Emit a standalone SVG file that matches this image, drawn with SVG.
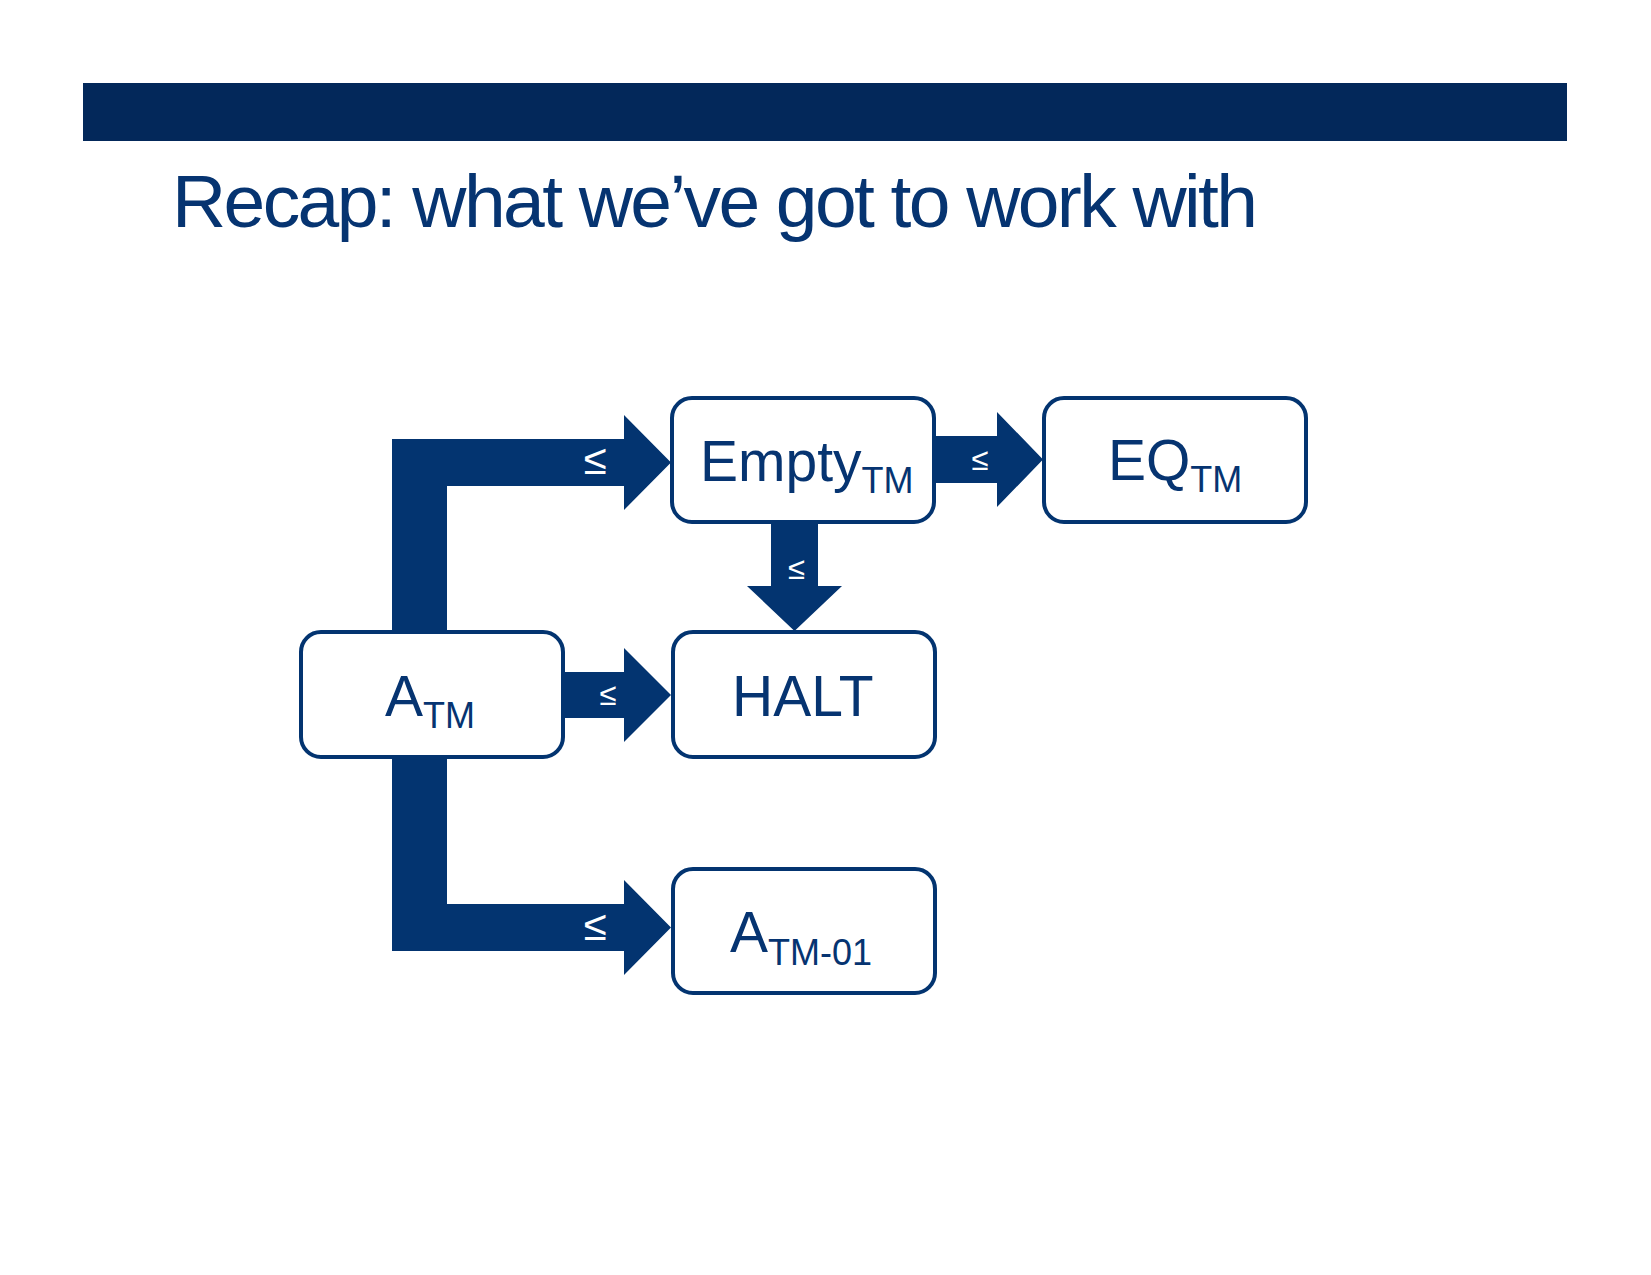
<svg xmlns="http://www.w3.org/2000/svg" width="1651" height="1275" viewBox="0 0 1651 1275">
  <style>
    .arrow { fill: #033470; }
    .box { fill: #ffffff; stroke: #033470; stroke-width: 4; }
    .lbl { font-family: "Liberation Sans", Arial, sans-serif; fill: #063471; }
    .big { font-size: 57px; }
    .sub { font-size: 36px; }
    .le { font-family: "Liberation Sans", Arial, sans-serif; fill: #ffffff; text-anchor: middle; }
  </style>
  <rect width="1651" height="1275" fill="#ffffff"/>

  <!-- title band -->
  <rect x="83" y="83" width="1484" height="58" fill="#03285A"/>
  <text x="172" y="227" font-family="'Liberation Sans', Arial, sans-serif" font-size="75" fill="#063471" textLength="1086" lengthAdjust="spacing">Recap: what we’ve got to work with</text>

  <!-- reduction arrows -->
  <g id="connectors">
    <g id="atm-empty">
      <polygon class="arrow" points="392,634 392,439 624,439 624,415 671,462.5 624,510 624,486 447,486 447,634"/>
      <text class="le" x="595" y="474" font-size="42">≤</text>
    </g>
    <g id="atm-atm01">
      <polygon class="arrow" points="392,756 392,951 624,951 624,975 671,927.5 624,880 624,904 447,904 447,756"/>
      <text class="le" x="595" y="940" font-size="42">≤</text>
    </g>
    <g id="atm-halt">
      <polygon class="arrow" points="561,672 624,672 624,648 671,695 624,742 624,718 561,718"/>
      <text class="le" x="608" y="705" font-size="31">≤</text>
    </g>
    <g id="empty-eq">
      <polygon class="arrow" points="934,436 997,436 997,412 1043,459.5 997,507 997,483 934,483"/>
      <text class="le" x="980" y="470" font-size="31">≤</text>
    </g>
    <g id="empty-halt">
      <polygon class="arrow" points="771,520 818,520 818,586 842,586 794.5,631 747,586 771,586"/>
      <text class="le" x="796.5" y="579" font-size="31">≤</text>
    </g>
  </g>

  <!-- nodes -->
  <g id="node-empty">
    <rect class="box" x="672" y="398" width="262" height="124" rx="20"/>
    <text class="lbl big" x="700" y="481">Empty<tspan class="sub" dy="12">TM</tspan></text>
  </g>
  <g id="node-eq">
    <rect class="box" x="1044" y="398" width="262" height="124" rx="20"/>
    <text class="lbl big" x="1108" y="480">EQ<tspan class="sub" dy="12">TM</tspan></text>
  </g>
  <g id="node-atm">
    <rect class="box" x="301" y="632" width="262" height="125" rx="20"/>
    <text class="lbl big" x="385" y="716">A<tspan class="sub" dy="12">TM</tspan></text>
  </g>
  <g id="node-halt">
    <rect class="box" x="673" y="632" width="262" height="125" rx="20"/>
    <text class="lbl big" x="732" y="716">HALT</text>
  </g>
  <g id="node-atm01">
    <rect class="box" x="673" y="869" width="262" height="124" rx="20"/>
    <text class="lbl big" x="730" y="952">A<tspan class="sub" dy="13">TM-01</tspan></text>
  </g>
</svg>
